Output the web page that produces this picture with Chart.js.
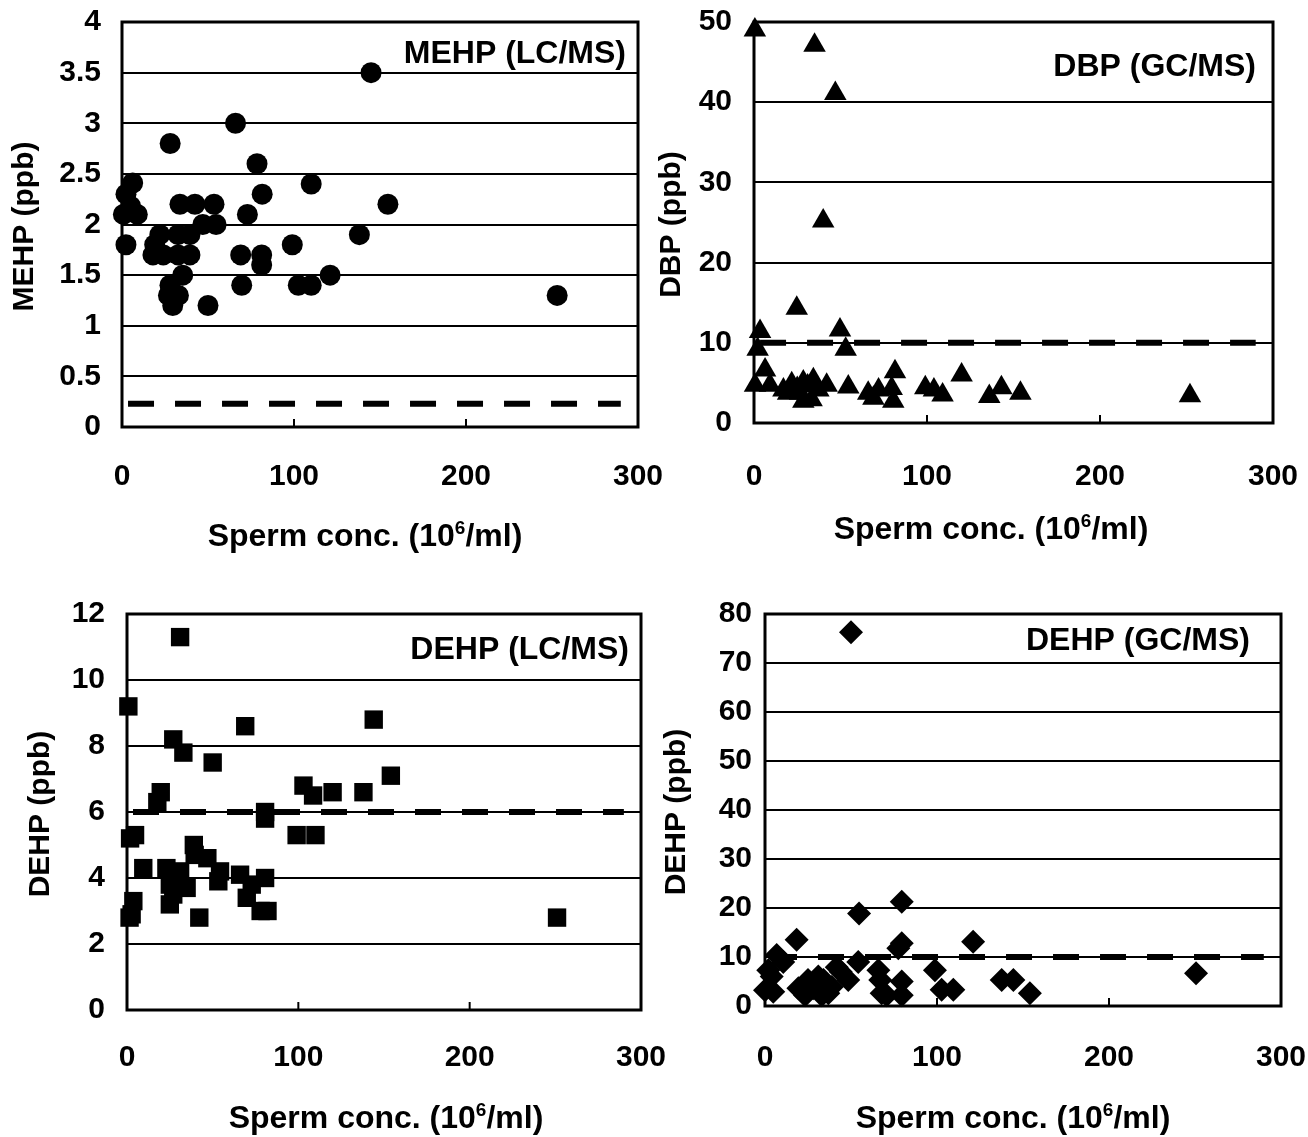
<!DOCTYPE html>
<html>
<head>
<meta charset="utf-8">
<script src="https://cdn.jsdelivr.net/npm/chart.js@4.4.0/dist/chart.umd.min.js"></script>
<style>
  body { margin: 0; background: #fff; }
  #page { position: relative; width: 1308px; height: 1137px; overflow: hidden; background: #fff; }
  .panel { position: absolute; }
</style>
</head>
<body>
<div id="page">
  <div class="panel" style="left:0;top:0;width:680px;height:568px"><canvas id="mehpChart"></canvas></div>
  <div class="panel" style="left:654px;top:0;width:654px;height:568px"><canvas id="dbpChart"></canvas></div>
  <div class="panel" style="left:0;top:568px;width:680px;height:569px"><canvas id="dehpLcChart"></canvas></div>
  <div class="panel" style="left:654px;top:568px;width:654px;height:569px"><canvas id="dehpGcChart"></canvas></div>
</div>
<script>
// sperm concentration axis (10^6/ml)
var concTicks = [0, 100, 200, 300];
var concTickLabels = ["0", "100", "200", "300"];
var limitSpan = [3.5, 290];

// MEHP by LC/MS
var mehpTicks = [0, 0.5, 1, 1.5, 2, 2.5, 3, 3.5, 4];
var mehpTickLabels = ["0", "0.5", "1", "1.5", "2", "2.5", "3", "3.5", "4"];
var mehpConc = [144.8, 66, 28, 78.5, 110, 6.2, 2.3, 81.5, 5, 154.6, 33.7, 42.4, 53.5, 0.8, 8.9, 72.9, 47, 54.7,
  22, 32.6, 39.5, 138, 2.3, 19, 99, 18, 24, 32.6, 39.5, 69, 81.2, 81.2, 35.3, 121, 27.9, 69.6, 102.5, 110,
  27, 32.8, 253, 29.5, 50];
var mehpLevel = [3.5, 3.0, 2.8, 2.6, 2.4, 2.41, 2.3, 2.3, 2.18, 2.2, 2.2, 2.2, 2.2, 2.1, 2.1, 2.1, 2.0, 2.0,
  1.9, 1.9, 1.9, 1.9, 1.8, 1.8, 1.8, 1.7, 1.7, 1.7, 1.7, 1.7, 1.7, 1.6, 1.5, 1.5, 1.4, 1.4, 1.4, 1.4,
  1.3, 1.3, 1.3, 1.2, 1.2];
var mehpLimit = 0.23;

// DBP by GC/MS
var dbpTicks = [0, 10, 20, 30, 40, 50];
var dbpTickLabels = ["0", "10", "20", "30", "40", "50"];
var dbpConc = [0.5, 35, 47, 40, 24.7, 3.5, 49.7, 2.1, 53, 6.4, 81.5, 120, 0.6, 9.2, 17, 21.8, 28.5, 34.3, 42,
  26.6, 28.5, 33.3, 37.2, 19.7, 54.5, 66, 69, 72, 79.6, 80.5, 99, 104, 109, 136, 143, 154, 252, 31, 25];
var dbpLevel = [49, 47.1, 41.1, 25.2, 14.3, 11.4, 11.6, 9.2, 9.2, 6.6, 6.4, 6.0, 4.7, 4.7, 4.1, 4.9, 5.1, 5.4, 4.7,
  3.7, 2.7, 2.9, 4.1, 3.7, 4.5, 3.7, 3.1, 4.1, 4.3, 2.7, 4.4, 4.1, 3.5, 3.3, 4.4, 3.7, 3.4, 4.6, 4.3];
var dbpLimit = 10;

// DEHP by LC/MS
var dehpLcTicks = [0, 2, 4, 6, 8, 10, 12];
var dehpLcTickLabels = ["0", "2", "4", "6", "8", "10", "12"];
var dehpLcConc = [31, 0.8, 69, 144, 27, 32.9, 50, 154, 103, 108.6, 120, 138, 19.7, 17.7, 80.6, 80.6, 4.7, 1.8,
  99, 110, 39, 46.9, 54.3, 9.5, 23, 31, 66, 80.6, 53.3, 34.8, 72.8, 25, 69.9, 27, 25, 3.7, 2.7, 42.2, 78, 82,
  251, 39.5, 1.5];
var dehpLcLevel = [11.3, 9.2, 8.6, 8.8, 8.2, 7.8, 7.5, 7.1, 6.8, 6.5, 6.6, 6.6, 6.6, 6.3, 6.0, 5.8, 5.3, 5.2,
  5.3, 5.3, 5.0, 4.6, 4.2, 4.3, 4.3, 4.2, 4.1, 4.0, 3.9, 3.7, 3.8, 3.8, 3.4, 3.5, 3.2, 3.3, 2.9, 2.8, 3.0, 3.0,
  2.8, 4.7, 2.8];
var dehpLcLimit = 6;

// DEHP by GC/MS
var dehpGcTicks = [0, 10, 20, 30, 40, 50, 60, 70, 80];
var dehpGcTickLabels = ["0", "10", "20", "30", "40", "50", "60", "70", "80"];
var dehpGcConc = [50, 54.7, 79.5, 18.4, 79.5, 77.5, 121, 6.8, 10.6, 54.2, 41.7, 1.9, 65.9, 98.8, 3.9, 48.4, 67,
  25, 31, 34, 137.6, 144.4, 0, 79.5, 19.4, 38.8, 28, 4.8, 67.8, 79.5, 23.3, 33, 36.8, 70.7, 102.7, 109.5,
  154, 250.6, 44];
var dehpGcLevel = [76.3, 18.9, 21.3, 13.5, 12.8, 11.8, 13.1, 10.4, 9.0, 9.0, 7.9, 7.3, 7.3, 7.3, 6.0, 5.3, 5.3,
  5.3, 6.0, 5.3, 5.3, 5.3, 3.2, 5.0, 3.6, 3.9, 3.6, 2.9, 2.6, 2.2, 2.2, 2.2, 2.6, 2.2, 3.3, 3.3,
  2.6, 6.7, 7.0];
var dehpGcLimit = 10;

var FONT = "'Liberation Sans', Arial, sans-serif";
var TICK_FONT = "'Liberation Sans Narrow', 'Arial Narrow', 'Liberation Sans', Arial, sans-serif";

// frame, inner x ticks, panel label and both axis titles
var panelDecor = {
  id: "panelDecor",
  afterDatasetsDraw: function (chart, args, o) {
    var ctx = chart.ctx, a = chart.chartArea, xs = chart.scales.x;
    ctx.save();
    ctx.strokeStyle = "#000";
    ctx.lineWidth = 3;
    ctx.strokeRect(a.left, a.top, a.right - a.left, a.bottom - a.top);
    ctx.lineWidth = 2;
    concTicks.forEach(function (v) {
      var px = xs.getPixelForValue(v);
      ctx.beginPath();
      ctx.moveTo(px, a.bottom);
      ctx.lineTo(px, a.bottom - 8);
      ctx.stroke();
    });
    ctx.restore();
  },
  afterDraw: function (chart, args, o) {
    var ctx = chart.ctx, a = chart.chartArea;
    ctx.save();
    ctx.fillStyle = "#000";

    // label inside the plot
    ctx.font = "bold 32px " + FONT;
    ctx.textAlign = "right";
    ctx.textBaseline = "middle";
    ctx.fillText(o.label, a.right - o.labelInset, a.top + o.labelDrop);

    // y title
    ctx.save();
    ctx.translate(o.yTitleX, (a.top + a.bottom) / 2 + 2);
    ctx.rotate(-Math.PI / 2);
    ctx.font = "bold 30px " + FONT;
    ctx.textAlign = "center";
    ctx.fillText(o.yTitle, 0, 0);
    ctx.restore();

    // x title with superscript exponent
    var big = "bold 32px " + FONT, small = "bold 19px " + FONT;
    var p1 = "Sperm conc. (10", p2 = "6", p3 = "/ml)";
    ctx.font = big;
    var w1 = ctx.measureText(p1).width, w3 = ctx.measureText(p3).width;
    ctx.font = small;
    var w2 = ctx.measureText(p2).width;
    var x0 = o.xTitleX - (w1 + w2 + w3) / 2;
    ctx.textAlign = "left";
    ctx.textBaseline = "alphabetic";
    var base = o.xTitleY + 11;
    ctx.font = big;
    ctx.fillText(p1, x0, base);
    ctx.font = small;
    ctx.fillText(p2, x0 + w1, base - 12);
    ctx.font = big;
    ctx.fillText(p3, x0 + w1 + w2, base);
    ctx.restore();
  }
};

function scatterPanel(id, p) {
  var points = p.conc.map(function (c, i) { return {x: c, y: p.level[i]}; });
  new Chart(id, {
    type: "scatter",
    data: {
      datasets: [{
        data: points,
        pointStyle: p.marker,
        pointRadius: p.size,
        pointHoverRadius: p.size,
        backgroundColor: "#000",
        borderColor: "#000",
        borderWidth: 0,
        clip: false,
        order: 0
      }, {
        type: "line",
        data: [{x: limitSpan[0], y: p.limit}, {x: limitSpan[1], y: p.limit}],
        borderColor: "#000",
        borderWidth: 6,
        borderDash: [26, 21],
        borderCapStyle: "butt",
        pointRadius: 0,
        fill: false,
        order: 1
      }]
    },
    options: {
      responsive: true,
      maintainAspectRatio: false,
      animation: false,
      events: [],
      layout: {padding: {top: p.top, right: p.right, left: 0, bottom: 0}},
      plugins: {
        legend: {display: false},
        tooltip: {enabled: false},
        panelDecor: {
          label: p.label, labelInset: p.labelInset, labelDrop: p.labelDrop,
          yTitle: p.yTitle, yTitleX: p.yTitleX,
          xTitleX: p.xTitleX, xTitleY: p.xTitleY
        }
      },
      scales: {
        x: {
          type: "linear",
          min: 0,
          max: 300,
          afterBuildTicks: function (s) { s.ticks = concTicks.map(function (v) { return {value: v}; }); },
          afterFit: function (s) { s.height = p.xAxisH; s.paddingLeft = 0; s.paddingRight = 0; },
          grid: {display: false},
          border: {display: false},
          ticks: {
            autoSkip: false, maxRotation: 0, color: "#000", padding: p.xPad,
            font: {family: TICK_FONT, size: 30, weight: "bold"},
            callback: function (v, i) { return concTickLabels[i]; }
          }
        },
        y: {
          type: "linear",
          min: p.ticks[0],
          max: p.ticks[p.ticks.length - 1],
          afterBuildTicks: function (s) { s.ticks = p.ticks.map(function (v) { return {value: v}; }); },
          afterFit: function (s) { s.width = p.yAxisW; s.paddingTop = 0; s.paddingBottom = 0; },
          grid: {color: "#000", lineWidth: 2, drawTicks: false},
          border: {display: false},
          ticks: {
            autoSkip: false, color: "#000", padding: p.yPad,
            font: {family: TICK_FONT, size: 30, weight: "bold"},
            callback: function (v, i) { return p.tickLabels[i]; }
          }
        }
      }
    },
    plugins: [panelDecor]
  });
}

scatterPanel("mehpChart", {
  conc: mehpConc, level: mehpLevel, limit: mehpLimit, ticks: mehpTicks, tickLabels: mehpTickLabels,
  marker: "circle", size: 10.5,
  top: 22, right: 42, yAxisW: 122, xAxisH: 141, xPad: 24, yPad: 21,
  label: "MEHP (LC/MS)", labelInset: 12, labelDrop: 32,
  yTitle: "MEHP (ppb)", yTitleX: 25, xTitleX: 365, xTitleY: 535
});

scatterPanel("dbpChart", {
  conc: dbpConc, level: dbpLevel, limit: dbpLimit, ticks: dbpTicks, tickLabels: dbpTickLabels,
  marker: "triangle", size: 13,
  top: 22, right: 35, yAxisW: 100, xAxisH: 145, xPad: 28, yPad: 22,
  label: "DBP (GC/MS)", labelInset: 17, labelDrop: 45,
  yTitle: "DBP (ppb)", yTitleX: 18, xTitleX: 337, xTitleY: 528
});

scatterPanel("dehpLcChart", {
  conc: dehpLcConc, level: dehpLcLevel, limit: dehpLcLimit, ticks: dehpLcTicks, tickLabels: dehpLcTickLabels,
  marker: "rect", size: 13,
  top: 46, right: 39, yAxisW: 127, xAxisH: 127, xPad: 22, yPad: 22,
  label: "DEHP (LC/MS)", labelInset: 12, labelDrop: 36,
  yTitle: "DEHP (ppb)", yTitleX: 41, xTitleX: 386, xTitleY: 549
});

scatterPanel("dehpGcChart", {
  conc: dehpGcConc, level: dehpGcLevel, limit: dehpGcLimit, ticks: dehpGcTicks, tickLabels: dehpGcTickLabels,
  marker: "rectRot", size: 12,
  top: 46, right: 27, yAxisW: 111, xAxisH: 131, xPad: 26, yPad: 13,
  label: "DEHP (GC/MS)", labelInset: 31, labelDrop: 27,
  yTitle: "DEHP (ppb)", yTitleX: 23, xTitleX: 359, xTitleY: 549
});
</script>
</body>
</html>
